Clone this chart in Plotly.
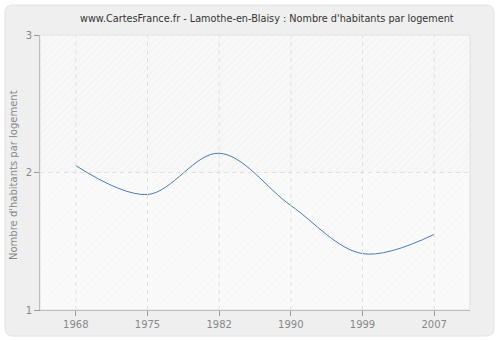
import plotly.graph_objects as go

years = ["1968", "1975", "1982", "1990", "1999", "2007"]
values = [2.05, 1.84, 2.14, 1.76, 1.41, 1.55]
y_ticks = [1, 2, 3]

title = "www.CartesFrance.fr - Lamothe-en-Blaisy : Nombre d'habitants par logement"
y_title = "Nombre d'habitants par logement"

W, H = 500, 340
L, R, T, B = 40, 30, 35, 30
pw, ph = W - L - R, H - T - B

def px2paper(x, y):
    return (x - L) / pw, (H - B - y) / ph

x_idx = list(range(len(years)))

fig = go.Figure()

# hatched background bands
fig.add_trace(go.Bar(x=[2.5], y=[1], base=[2], width=[6],
                     marker=dict(color="#f7f7f7", line_width=0,
                                 pattern=dict(shape="/", fgcolor="#e3e3e3", bgcolor="#f8f8f8", size=5, solidity=0.15)),
                     hoverinfo="skip", showlegend=False))
fig.add_trace(go.Bar(x=[2.5], y=[1], base=[1], width=[6],
                     marker=dict(color="#f9f9f9", line_width=0,
                                 pattern=dict(shape="/", fgcolor="#efefef", bgcolor="#fafafa", size=5, solidity=0.15)),
                     hoverinfo="skip", showlegend=False))

# dashed grid lines drawn above the hatched background
for xi in x_idx:
    fig.add_shape(type="line", x0=xi, x1=xi, y0=0, y1=1, xref="x", yref="paper",
                  line=dict(color="#e0e0e0", width=1, dash="4px,4px"), layer="above")
for yv in y_ticks[1:-1]:
    fig.add_shape(type="line", x0=0, x1=1, y0=yv, y1=yv, xref="paper", yref="y",
                  line=dict(color="#e0e0e0", width=1, dash="4px,4px"), layer="above")

fig.add_trace(go.Scatter(x=x_idx, y=values, mode="lines",
                         line=dict(color="#4a7bb4", width=1, shape="spline", smoothing=1),
                         showlegend=False))

# rounded outer panel
x0, y0 = px2paper(5, 5)
x1, y1 = px2paper(494, 336)
r = 8
rx, ry = r / pw, r / ph
path = (f"M {x0+rx},{y0} L {x1-rx},{y0} Q {x1},{y0} {x1},{y0-ry} "
        f"L {x1},{y1+ry} Q {x1},{y1} {x1-rx},{y1} L {x0+rx},{y1} Q {x0},{y1} {x0},{y1+ry} "
        f"L {x0},{y0-ry} Q {x0},{y0} {x0+rx},{y0} Z")
fig.add_shape(type="path", path=path, xref="paper", yref="paper",
              fillcolor="#efefef", line=dict(color="#e2e2e2", width=1), layer="below")
fig.add_shape(type="rect", x0=0, y0=0, x1=1, y1=1, xref="paper", yref="paper",
              line=dict(color="#e0e0e0", width=1), layer="above")

tx, ty = px2paper(267, 18)
fig.add_annotation(text=title, x=tx, y=ty, xref="paper", yref="paper",
                   xanchor="center", yanchor="middle", showarrow=False,
                   font=dict(family="DejaVu Sans", size=9.7, color="#333333"))
ax_, ay_ = px2paper(14, 175)
fig.add_annotation(text=y_title, x=ax_, y=ay_, xref="paper", yref="paper",
                   xanchor="center", yanchor="middle", showarrow=False, textangle=-90,
                   font=dict(family="DejaVu Sans", size=10, color="#888888"))

fig.update_layout(
    width=W, height=H,
    margin=dict(l=L, r=R, t=T, b=B),
    paper_bgcolor="white",
    plot_bgcolor="#f9f9f9",
    barmode="overlay",
    bargap=0,
    font=dict(family="DejaVu Sans", size=10, color="#888888"),
    xaxis=dict(range=[-0.5, 5.5], tickmode="array", tickvals=x_idx, ticktext=years,
               showgrid=False, automargin=False,
               showline=True, linecolor="#999999", linewidth=1,
               ticks="outside", ticklen=5, tickcolor="#999999",
               zeroline=False, fixedrange=True),
    yaxis=dict(range=[1, 3], tickmode="array", tickvals=y_ticks, ticktext=[str(v) for v in y_ticks],
               showgrid=False, automargin=False,
               showline=True, linecolor="#999999", linewidth=1,
               ticks="outside", ticklen=5, tickcolor="#999999",
               zeroline=False, fixedrange=True),
)

fig.write_html("out.html")
